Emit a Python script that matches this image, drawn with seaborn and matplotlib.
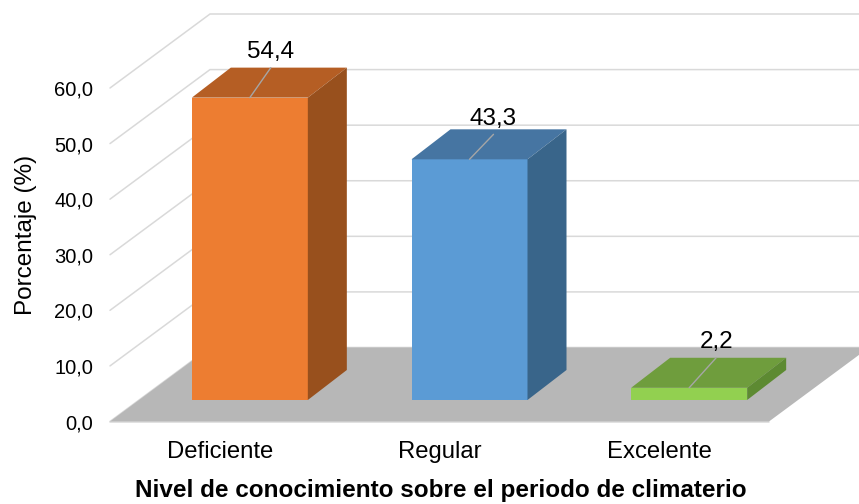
import pandas as pd
import numpy as np
import matplotlib
matplotlib.use("Agg")
import matplotlib.pyplot as plt
from matplotlib.patches import Polygon
import seaborn as sns

categorias = ["Deficiente", "Regular", "Excelente"]
porcentajes = [54.4, 43.3, 2.2]
ticks = [0, 10, 20, 30, 40, 50, 60]

color_frente = ["#ED7D31", "#5B9BD5", "#92D050"]
color_tapa = ["#B55E24", "#4675A2", "#6F9D3D"]
color_lado = ["#98501D", "#39658A", "#5D8A32"]
linea_dx = [21, 24, 27]
linea_dy = [30, 25, 30]

sns.set_theme(style="white")
plt.rcParams["font.family"] = ["Liberation Sans", "DejaVu Sans"]

W, H = 859, 504
x0, x1, y0, y1 = 110, 769, 421.5, 88

fig = plt.figure(figsize=(W / 100, H / 100), dpi=100)
ax = fig.add_axes([x0 / W, 1 - y0 / H, (x1 - x0) / W, (y0 - y1) / H])

# pixels to data units
px = 3 / (x1 - x0)
py = 60 / (y0 - y1)

df = pd.DataFrame({"cat": categorias, "pct": porcentajes})
sns.barplot(data=df, x="cat", y="pct", hue="cat", palette=color_frente, legend=False,
            saturation=1, width=116 * 3 / (x1 - x0), bottom=21.5 * py, linewidth=0, ax=ax, zorder=3)
ax.set_xlim(-0.5, 2.5)
ax.set_ylim(0, 60)

# floor and back wall
fx, fy = 100 * px, 74 * py
ax.add_patch(Polygon([(-0.5, 0), (2.5, 0), (2.5 + fx, fy), (-0.5 + fx, fy)], color="#B7B7B7", lw=0,
                     clip_on=False, zorder=1))
for t in ticks:
    ax.plot([-0.5, -0.5 + fx, 2.5 + fx], [t, t + fy, t + fy], color="#D9D9D9", lw=1.1,
            clip_on=False, zorder=0.5 if t else 0.9, solid_joinstyle="miter")
ax.plot([-0.5, 2.5], [0, 0], color="#D9D9D9", lw=1.1, clip_on=False, zorder=0.9)

# 3d faces of the bars
dx, dy = 39 * px, 30 * py
for i, p in enumerate(ax.patches[:3]):
    p.set_x(p.get_x() + 30 * px)
    l, r = p.get_x(), p.get_x() + p.get_width()
    b, t = p.get_y(), p.get_y() + p.get_height()
    ax.add_patch(Polygon([(l, t), (r, t), (r + dx, t + dy), (l + dx, t + dy)], color=color_tapa[i], lw=0,
                         clip_on=False, zorder=3))
    ax.add_patch(Polygon([(r, b), (r + dx, b + dy), (r + dx, t + dy), (r, t)], color=color_lado[i], lw=0,
                         clip_on=False, zorder=3))
    c = (l + r) / 2
    tip = t + linea_dy[i] * py
    ax.plot([c, c + linea_dx[i] * px], [t, tip], color="#A6A6A6", lw=1, clip_on=False, zorder=4)
    ax.text(c + linea_dx[i] * px, tip + 15.5 * py, f"{porcentajes[i]:.1f}".replace(".", ","),
            ha="center", va="center", fontsize=17.5, color="black", clip_on=False, zorder=5)

sns.despine(ax=ax, left=True, bottom=True)
ax.set_yticks(ticks)
ax.set_yticklabels([f"{t:.1f}".replace(".", ",") for t in ticks], fontsize=14.5, color="black")
ax.set_xticks(range(3))
ax.set_xticklabels(categorias, fontsize=17.2, color="black")
ax.tick_params(axis="y", length=0, pad=12)
ax.tick_params(axis="x", length=0, pad=14)
ax.set_ylabel("Porcentaje (%)", fontsize=17.5, color="black")
ax.yaxis.set_label_coords((25.5 - x0) / (x1 - x0), (y0 - 235) / (y0 - y1))
ax.set_xlabel("Nivel de conocimiento sobre el periodo de climaterio", fontsize=17.5, fontweight="bold", color="black")
ax.xaxis.set_label_coords((440.5 - x0) / (x1 - x0), (y0 - 490.5) / (y0 - y1))
ax.xaxis.label.set_va("center")
ax.yaxis.label.set_va("center")

fig.savefig("out.png", dpi=100)
